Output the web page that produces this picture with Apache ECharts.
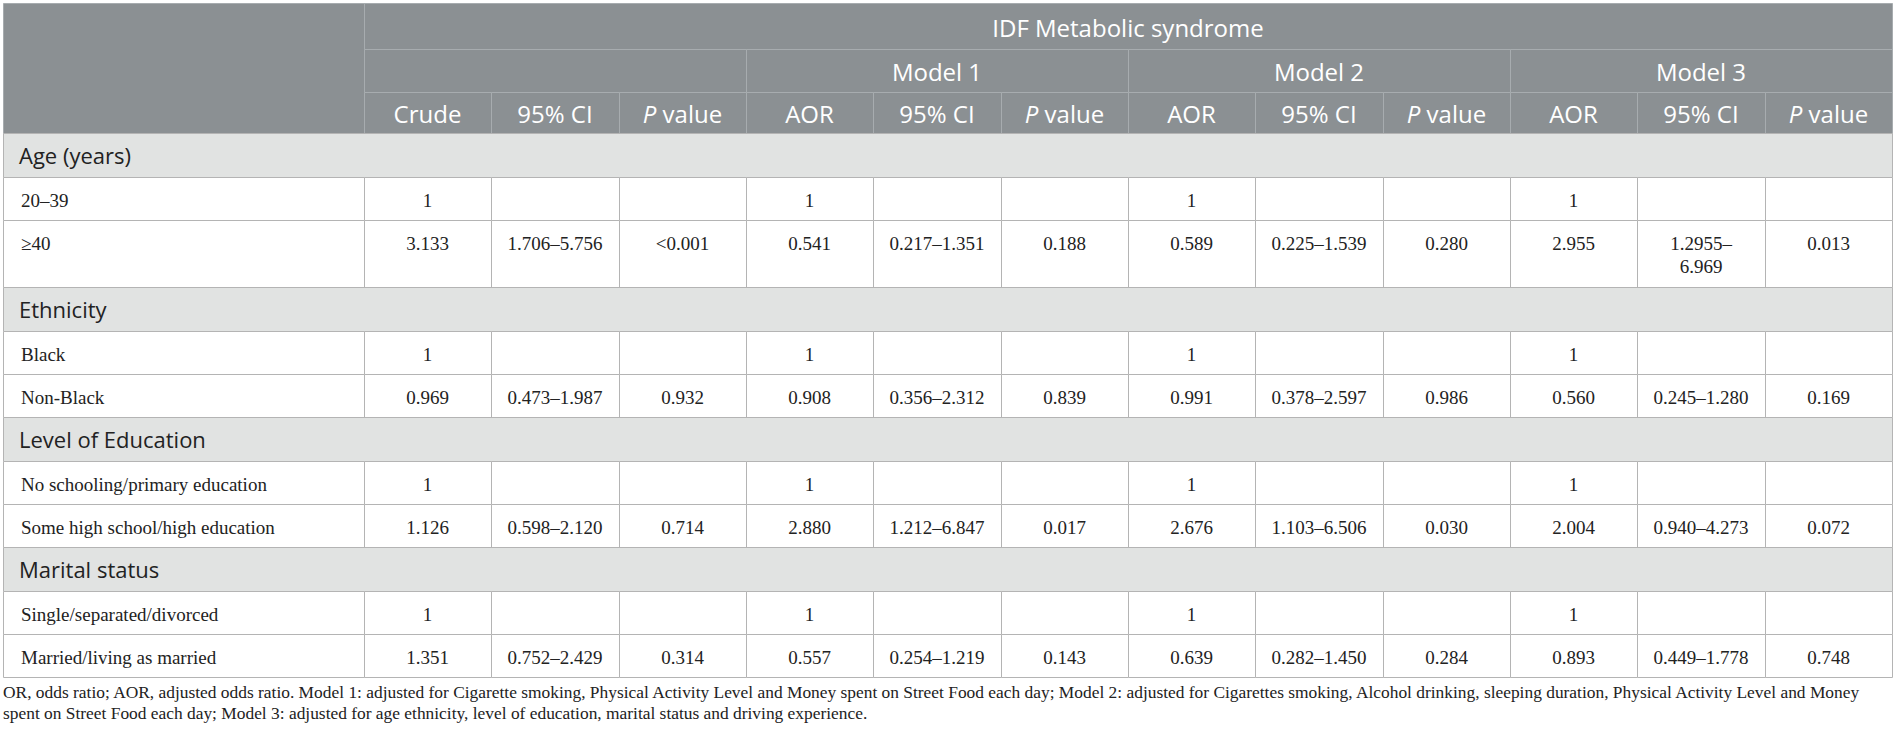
<!DOCTYPE html>
<html>
<head>
<meta charset="utf-8">
<title>IDF Metabolic syndrome – odds ratios</title>
<script src="https://cdn.jsdelivr.net/npm/echarts@6/dist/echarts.min.js"></script>
<style>
html, body { margin: 0; padding: 0; background: #fff; }
#chart { width: 1897px; height: 730px; }
</style>
</head>
<body>
<div id="chart"></div>
<script>
// ---- table data ----
var groupTitle = 'IDF Metabolic syndrome';
var modelNames = ['Model 1', 'Model 2', 'Model 3'];
var colHeaders = ['Crude', '95% CI', '{i|P} value',
                  'AOR', '95% CI', '{i|P} value',
                  'AOR', '95% CI', '{i|P} value',
                  'AOR', '95% CI', '{i|P} value'];

var sections = ['Age (years)', 'Ethnicity', 'Level of Education', 'Marital status'];
var rowLabels = ['20–39', '≥40', 'Black', 'Non-Black',
                 'No schooling/primary education', 'Some high school/high education',
                 'Single/separated/divorced', 'Married/living as married'];

var crudeOR = ['1', '3.133', '1', '0.969', '1', '1.126', '1', '1.351'];
var crudeCI = ['', '1.706–5.756', '', '0.473–1.987', '', '0.598–2.120', '', '0.752–2.429'];
var crudeP  = ['', '<0.001', '', '0.932', '', '0.714', '', '0.314'];

var m1AOR = ['1', '0.541', '1', '0.908', '1', '2.880', '1', '0.557'];
var m1CI  = ['', '0.217–1.351', '', '0.356–2.312', '', '1.212–6.847', '', '0.254–1.219'];
var m1P   = ['', '0.188', '', '0.839', '', '0.017', '', '0.143'];

var m2AOR = ['1', '0.589', '1', '0.991', '1', '2.676', '1', '0.639'];
var m2CI  = ['', '0.225–1.539', '', '0.378–2.597', '', '1.103–6.506', '', '0.282–1.450'];
var m2P   = ['', '0.280', '', '0.986', '', '0.030', '', '0.284'];

var m3AOR = ['1', '2.955', '1', '0.560', '1', '2.004', '1', '0.893'];
var m3CI  = ['', '1.2955–\n6.969', '', '0.245–1.280', '', '0.940–4.273', '', '0.449–1.778'];
var m3P   = ['', '0.013', '', '0.169', '', '0.072', '', '0.748'];

var noteLines = [
  'OR, odds ratio; AOR, adjusted odds ratio. Model 1: adjusted for Cigarette smoking, Physical Activity Level and Money spent on Street Food each day; Model 2: adjusted for Cigarettes smoking, Alcohol drinking, sleeping duration, Physical Activity Level and Money',
  'spent on Street Food each day; Model 3: adjusted for age ethnicity, level of education, marital status and driving experience.'
];

// ---- layout (pixel units on the hidden axes) ----
var tableW = 1889, firstColW = 361;
var colW = (tableW - firstColW) / 12;
var headerH = [46, 43, 41];
var sectionH = 44, rowH = 43, tallRowH = 67;

var HEAD_BG = '#8b9093', HEAD_LINE = '#a7acaf';
var SECT_BG = '#e1e3e2', BODY_LINE = '#b4b4b4';
var SANS = '"Open Sans", "Noto Sans", sans-serif';
var SERIF = '"Liberation Serif", "DejaVu Serif", serif';

var valueCols = [crudeOR, crudeCI, crudeP, m1AOR, m1CI, m1P, m2AOR, m2CI, m2P, m3AOR, m3CI, m3P];

function colX(i) { return firstColW + i * colW; }

// build cell list: [x0, y0, x1, y1] plus text/kind
var cells = [];
function addCell(x0, y0, x1, y1, kind, text) {
  cells.push({ box: [x0, y0, x1, y1], kind: kind, text: text || '' });
}

var y = 0;
var totalHead = headerH[0] + headerH[1] + headerH[2];
addCell(0, 0, firstColW, totalHead, 'corner', '');
addCell(firstColW, 0, tableW, headerH[0], 'head', groupTitle);
y = headerH[0];
addCell(colX(0), y, colX(3), y + headerH[1], 'head', '');
modelNames.forEach(function (m, k) {
  addCell(colX(3 + 3 * k), y, colX(6 + 3 * k), y + headerH[1], 'head', m);
});
y += headerH[1];
colHeaders.forEach(function (h, i) {
  addCell(colX(i), y, colX(i + 1), y + headerH[2], 'head', h);
});
y += headerH[2];

sections.forEach(function (s, si) {
  addCell(0, y, tableW, y + sectionH, 'section', s);
  y += sectionH;
  for (var r = si * 2; r < si * 2 + 2; r++) {
    var tall = valueCols.some(function (c) { return c[r].indexOf('\n') >= 0; });
    var h = tall ? tallRowH : rowH;
    addCell(0, y, firstColW, y + h, 'label', rowLabels[r]);
    valueCols.forEach(function (col, ci) {
      addCell(colX(ci), y, colX(ci + 1), y + h, 'value', col[r]);
    });
    y += h;
  }
});
var tableH = y;

function renderCell(params, api) {
  var c = cells[params.dataIndex];
  var p0 = api.coord([api.value(0), api.value(1)]);
  var p1 = api.coord([api.value(2), api.value(3)]);
  var x0 = Math.round(p0[0]), y0 = Math.round(p0[1]);
  var x1 = Math.round(p1[0]), y1 = Math.round(p1[1]);
  var isHead = c.kind === 'head' || c.kind === 'corner';
  var fill = isHead ? HEAD_BG : (c.kind === 'section' ? SECT_BG : '#ffffff');
  var children = [{
    type: 'rect',
    shape: { x: x0 + 0.5, y: y0 + 0.5, width: x1 - x0, height: y1 - y0 },
    style: { fill: fill, stroke: isHead ? HEAD_LINE : BODY_LINE, lineWidth: 1 }
  }];
  if (c.text) {
    var st;
    if (c.kind === 'head') {
      st = {
        text: c.text, x: (x0 + x1) / 2, y: (y0 + y1) / 2 + 1,
        fill: '#ffffff', fontSize: 24, fontFamily: SANS,
        align: 'center', verticalAlign: 'middle',
        rich: { i: { fontStyle: 'italic', fontSize: 24, fontFamily: SANS, fill: '#ffffff' } }
      };
    } else if (c.kind === 'section') {
      st = {
        text: c.text, x: x0 + 16, y: (y0 + y1) / 2,
        fill: '#222222', fontSize: 22, fontFamily: SANS,
        align: 'left', verticalAlign: 'middle'
      };
    } else if (c.kind === 'label') {
      st = {
        text: c.text, x: x0 + 18, y: y0 + 12, lineHeight: 23,
        fill: '#222222', fontSize: 19, fontFamily: SERIF,
        align: 'left', verticalAlign: 'top'
      };
    } else {
      st = {
        text: c.text, x: (x0 + x1) / 2, y: y0 + 12, lineHeight: 23,
        fill: '#222222', fontSize: 19, fontFamily: SERIF,
        align: 'center', verticalAlign: 'top'
      };
    }
    children.push({ type: 'text', style: st });
  }
  return { type: 'group', children: children };
}

var chart = echarts.init(document.getElementById('chart'), null, { renderer: 'svg' });

chart.setOption({
  animation: false,
  title: {
    text: noteLines.join('\n'),
    left: -2, top: 676,
    textStyle: {
      fontFamily: SERIF, fontSize: 17.4, fontWeight: 'normal',
      color: '#222222', lineHeight: 21
    }
  },
  grid: { left: 3, top: 3, width: tableW, height: tableH },
  xAxis: { type: 'value', min: 0, max: tableW, show: false },
  yAxis: { type: 'value', min: 0, max: tableH, inverse: true, show: false },
  series: [{
    type: 'custom',
    silent: true,
    clip: false,
    renderItem: renderCell,
    encode: { x: [0, 2], y: [1, 3] },
    data: cells.map(function (c) { return c.box; })
  }]
});
</script>
</body>
</html>
